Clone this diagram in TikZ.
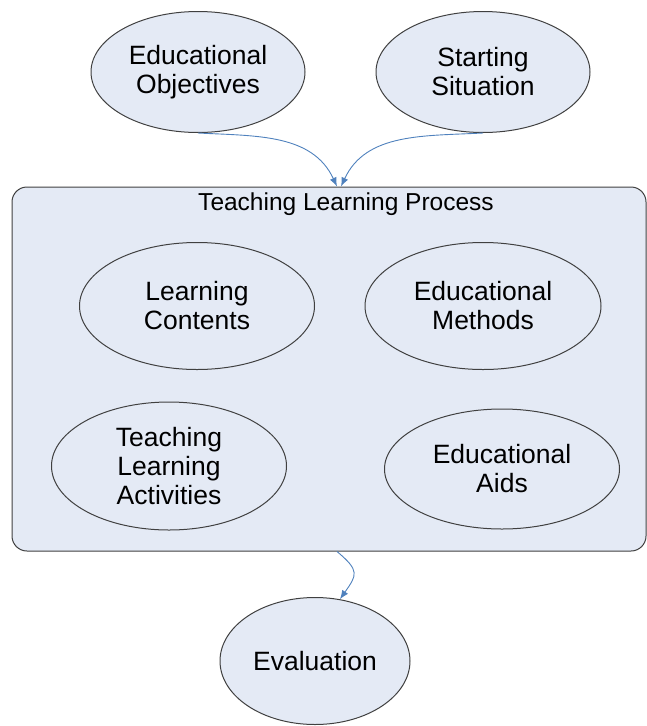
\documentclass[tikz,border=0pt]{standalone}
\usepackage{fontspec}
\setmainfont{Liberation Sans}
\usepackage{tikz}
\usetikzlibrary{shapes.geometric,arrows.meta}
\definecolor{bubble}{HTML}{E4EAF5}
\definecolor{rim}{HTML}{404040}
\definecolor{flowblue}{HTML}{4F81BD}

\begin{document}
\begin{tikzpicture}[x=1pt, y=-1pt,
  bub/.style={ellipse, draw=rim, fill=bubble, line width=1pt, inner sep=0pt,
    align=center, font=\fontsize{26.5}{29}\selectfont},
  flow/.style={flowblue, line width=0.9pt, -{Latex[length=9pt,width=7pt]}}]
\useasboundingbox (0,0) rectangle (647,726);
\node[draw=rim, fill=bubble, line width=1pt, rounded corners=15pt,
  minimum width=634pt, minimum height=364pt] (tlp) at (329,369) {};
\node[font=\fontsize{24.5}{27}\selectfont] (title) at (346,204) {Teaching Learning Process};
\node[bub, minimum width=214pt, minimum height=121pt] (obj) at (198,72) {Educational\\Objectives};
\node[bub, minimum width=214pt, minimum height=121pt] (sit) at (483,72) {Starting\\Situation};
\node[bub, minimum width=235pt, minimum height=127pt] (cont) at (197,306) {Learning\\Contents};
\node[bub, minimum width=236pt, minimum height=127pt] (meth) at (483,306) {Educational\\Methods};
\node[bub, minimum width=235pt, minimum height=128pt] (act) at (169,466) {Teaching\\Learning\\Activities};
\node[bub, minimum width=235pt, minimum height=120pt] (aids) at (502,469) {Educational\\Aids};
\node[bub, minimum width=190pt, minimum height=127pt] (eval) at (315,661) {Evaluation};
\draw[flow] (obj.south) to[out=-3, in=115] ([xshift=8pt]tlp.north);
\draw[flow] (sit.south) to[out=183, in=65] ([xshift=12pt]tlp.north);
\draw[flow] ([xshift=8pt]tlp.south) to[out=-40, in=55, looseness=1.6] (eval.68);
\end{tikzpicture}
\end{document}
